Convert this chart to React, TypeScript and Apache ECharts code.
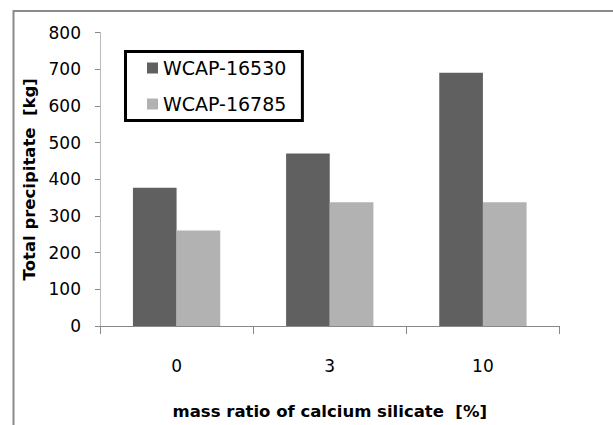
import React, { useEffect, useRef } from "react";
import * as echarts from "echarts";

const categories = ["0", "3", "10"];
const seriesNames = ["WCAP-16530", "WCAP-16785"];
const wcap16530 = [377, 470, 690];
const wcap16785 = [260, 337, 337];
const yTicks = { min: 0, max: 800, interval: 100 };

const FONT = "DejaVu Sans";

export default function App() {
  const ref = useRef<HTMLDivElement>(null);
  useEffect(() => {
    if (!ref.current) return;
    const chart = echarts.init(ref.current, undefined, { renderer: "svg" });
    chart.setOption({
      animation: false,
      backgroundColor: "#ffffff",
      graphic: [
        {
          type: "rect",
          shape: { x: 13.5, y: 11, width: 700, height: 500 },
          style: { fill: "none", stroke: "#8a8a8a", lineWidth: 2 },
          silent: true,
          z: 0,
        },
      ],
      grid: { left: 100, right: 53.5, top: 32.5, bottom: 97.5, containLabel: false },
      legend: {
        orient: "vertical",
        left: 125.5,
        top: 51.5,
        padding: [7, 16, 7, 21.5],
        itemGap: 17,
        itemWidth: 11,
        itemHeight: 11,
        icon: "rect",
        borderColor: "#000",
        borderWidth: 3,
        borderRadius: 0,
        backgroundColor: "#fff",
        textStyle: { fontFamily: FONT, fontSize: 19, color: "#000" },
        data: seriesNames,
      },
      xAxis: {
        type: "category",
        data: categories,
        name: "mass ratio of calcium silicate  [%]",
        nameLocation: "middle",
        nameGap: 77,
        nameTextStyle: { fontFamily: FONT, fontSize: 16.5, fontWeight: "bold", color: "#000" },
        axisLine: { show: true, lineStyle: { color: "#888", width: 1 } },
        axisTick: { show: true, length: 8, lineStyle: { color: "#888" } },
        axisLabel: { margin: 31, fontFamily: FONT, fontSize: 17, color: "#000" },
        splitLine: { show: false },
      },
      yAxis: {
        type: "value",
        min: yTicks.min,
        max: yTicks.max,
        interval: yTicks.interval,
        name: "Total precipitate  [kg]",
        nameLocation: "middle",
        nameGap: 58,
        nameTextStyle: { fontFamily: FONT, fontSize: 16.5, fontWeight: "bold", color: "#000" },
        axisLine: { show: true, lineStyle: { color: "#bbb", width: 1 } },
        axisTick: { show: true, length: 5, lineStyle: { color: "#888" } },
        axisLabel: { margin: 19, fontFamily: FONT, fontSize: 17, color: "#000" },
        splitLine: { show: false },
      },
      series: [
        {
          name: seriesNames[0],
          type: "bar",
          data: wcap16530,
          barGap: "0%",
          barCategoryGap: "43%",
          itemStyle: { color: "#606060" },
        },
        {
          name: seriesNames[1],
          type: "bar",
          data: wcap16785,
          barGap: "0%",
          barCategoryGap: "43%",
          itemStyle: { color: "#b2b2b2" },
        },
      ],
    });
    return () => chart.dispose();
  }, []);
  return (
    <div
      ref={ref}
      style={{ position: "absolute", left: 0, top: 0, width: 613, height: 425 }}
    />
  );
}
